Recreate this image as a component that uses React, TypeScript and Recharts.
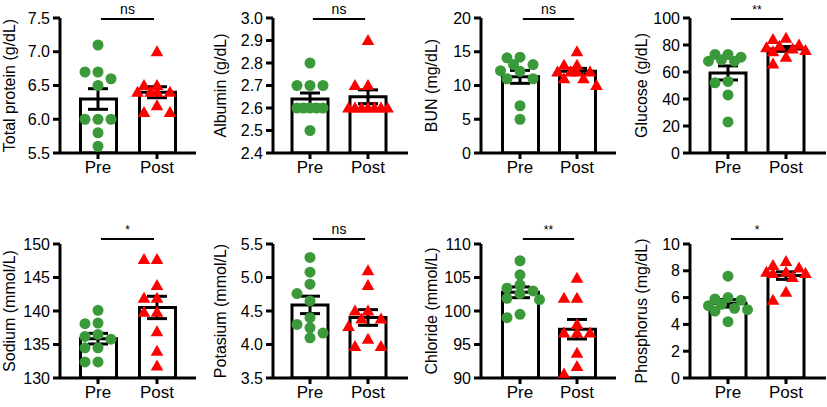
import React from "react";
import {
  ComposedChart,
  Bar,
  Scatter,
  XAxis,
  YAxis,
  ErrorBar,
  ReferenceLine,
} from "recharts";

const groups = ["Pre", "Post"];

// values, one point per animal
const proteinPre = [7.1, 6.7, 6.7, 6.6, 6.5, 6.0, 6.0, 6.0, 5.8, 5.6];
const proteinPost = [7.0, 6.5, 6.5, 6.4, 6.4, 6.4, 6.4, 6.2, 6.1, 6.1];
const albuminPre = [2.8, 2.7, 2.7, 2.7, 2.6, 2.6, 2.6, 2.6, 2.6, 2.5];
const albuminPost = [2.9, 2.7, 2.7, 2.6, 2.6, 2.6, 2.6, 2.6, 2.6, 2.6];
const bunPre = [14.2, 14.1, 13.1, 13.1, 12.2, 12.1, 11, 11, 7, 5];
const bunPost = [15, 13, 13, 12, 12, 12, 12, 11, 11, 10];
const glucosePre = [73, 73, 71, 69, 68, 68, 53, 52, 43, 23];
const glucosePost = [85, 84, 80, 79, 78, 77, 76, 75, 71, 66];
const sodiumPre = [140.1, 138.2, 138.1, 136.5, 136.2, 135.8, 134.5, 134.5, 132.4, 132.4];
const sodiumPost = [147.7, 147.7, 143.8, 141.9, 141.9, 139.8, 139.8, 136.9, 134, 131.8];
const potassiumPre = [5.3, 5.08, 4.9, 4.76, 4.65, 4.4, 4.3, 4.25, 4.17, 4.1];
const potassiumPost = [5.1, 4.88, 4.5, 4.5, 4.38, 4.38, 4.27, 4.08, 3.97, 3.97];
const chloridePre = [107.5, 105.4, 103.9, 103.4, 103, 102.6, 101.9, 101.7, 99.5, 99];
const chloridePost = [104.9, 101.9, 101.9, 98, 96.7, 96.7, 96.7, 93.7, 91.7, 90.6];
const phosphorusPre = [7.6, 6.0, 5.9, 5.8, 5.5, 5.4, 5.2, 5.1, 5.0, 4.2];
const phosphorusPost = [8.7, 8.4, 8.2, 7.9, 7.9, 7.8, 7.8, 7.5, 6.4, 5.8];

const proteinTicks = [5.5, 6.0, 6.5, 7.0, 7.5];
const albuminTicks = [2.4, 2.5, 2.6, 2.7, 2.8, 2.9, 3.0];
const bunTicks = [0, 5, 10, 15, 20];
const glucoseTicks = [0, 20, 40, 60, 80, 100];
const sodiumTicks = [130, 135, 140, 145, 150];
const potassiumTicks = [3.5, 4.0, 4.5, 5.0, 5.5];
const chlorideTicks = [90, 95, 100, 105, 110];
const phosphorusTicks = [0, 2, 4, 6, 8, 10];

const panels = [
  { label: "Total protein (g/dL)", pre: proteinPre, post: proteinPost, ticks: proteinTicks, dec: 1, sig: "ns", col: 0, row: 0 },
  { label: "Albumin (g/dL)", pre: albuminPre, post: albuminPost, ticks: albuminTicks, dec: 1, sig: "ns", col: 1, row: 0 },
  { label: "BUN (mg/dL)", pre: bunPre, post: bunPost, ticks: bunTicks, dec: 0, sig: "ns", col: 2, row: 0 },
  { label: "Glucose (g/dL)", pre: glucosePre, post: glucosePost, ticks: glucoseTicks, dec: 0, sig: "**", col: 3, row: 0 },
  { label: "Sodium (mmol/L)", pre: sodiumPre, post: sodiumPost, ticks: sodiumTicks, dec: 0, sig: "*", col: 0, row: 1 },
  { label: "Potasium (mmol/L)", pre: potassiumPre, post: potassiumPost, ticks: potassiumTicks, dec: 1, sig: "ns", col: 1, row: 1 },
  { label: "Chloride (mmol/L)", pre: chloridePre, post: chloridePost, ticks: chlorideTicks, dec: 0, sig: "**", col: 2, row: 1 },
  { label: "Phosphorus (mg/dL)", pre: phosphorusPre, post: phosphorusPost, ticks: phosphorusTicks, dec: 0, sig: "*", col: 3, row: 1 },
];

// page layout (px)
const COL_LEFT = [0, 207, 414, 621];
const AXIS_X = [60, 273, 481, 690];
const AXIS_END = [196, 408, 616, 826];
const PRE_X = [98, 310, 520, 728];
const POST_X = [157, 368, 577, 786];
const LABEL_X = [9, 220, 431, 641];
const ROW_TOP = [0, 205];
const ROW_H = [200, 202];
const PLOT_TOP = [18, 244];
const PLOT_BOTTOM = [153, 378];
const BRACKET_Y = [19, 239];

const FONT = "Arial, 'Liberation Sans', Helvetica, sans-serif";
const GREEN = "#3a9a3a";
const RED = "#ff0000";

const mean = (a: number[]) => a.reduce((s, v) => s + v, 0) / a.length;
const sem = (a: number[]) => {
  const m = mean(a);
  return Math.sqrt(a.reduce((s, v) => s + (v - m) ** 2, 0) / (a.length - 1)) / Math.sqrt(a.length);
};

// simple beeswarm: horizontal pixel offsets so dots don't sit on each other
function swarm(values: number[], pxPerY: number) {
  const step = 13;
  const minDist = 10;
  const cands = [0, -1, 1, -0.5, 0.5, -1.5, 1.5].map((c) => c * step);
  const placed: { dx: number; py: number }[] = [];
  return values.map((v) => {
    const py = v * pxPerY;
    let best = 0;
    let bestD = -1;
    for (const dx of cands) {
      const d = placed.length
        ? Math.min(...placed.map((p) => Math.hypot(p.dx - dx, p.py - py)))
        : Infinity;
      if (d >= minDist) {
        best = dx;
        bestD = d;
        break;
      }
      if (d > bestD) {
        bestD = d;
        best = dx;
      }
    }
    placed.push({ dx: best, py });
    return best;
  });
}

const Dot = (p: any) => <circle cx={p.cx} cy={p.cy} r={5.5} fill={GREEN} />;
const Tri = (p: any) => (
  <polygon
    points={`${p.cx},${p.cy - 6.5} ${p.cx - 6.3},${p.cy + 4.5} ${p.cx + 6.3},${p.cy + 4.5}`}
    fill={RED}
  />
);
const Nothing = () => <g />;

function Panel({ spec }: { spec: (typeof panels)[number] }) {
  const { col, row, pre, post, ticks } = spec;
  const left = COL_LEFT[col];
  const top = ROW_TOP[row];
  const height = ROW_H[row];
  const width = AXIS_END[col] - left + 1;
  const axisH = 28;
  const plotTop = PLOT_TOP[row];
  const plotBottom = PLOT_BOTTOM[row];
  const margin = {
    top: plotTop - top,
    right: 1,
    left: 0,
    bottom: height - (plotBottom - top) - axisH,
  };
  const plotW = AXIS_END[col] - AXIS_X[col];
  const gap = POST_X[col] - PRE_X[col];
  const padL = PRE_X[col] - AXIS_X[col] - gap / 2;
  const padR = plotW - padL - 2 * gap;
  const lo = ticks[0];
  const hi = ticks[ticks.length - 1];
  const pxPerY = (plotBottom - plotTop) / (hi - lo);

  const preDx = swarm(pre, pxPerY);
  const postDx = swarm(post, pxPerY);
  const prePts = pre.map((v, i) => ({ x: 0.5 + preDx[i] / gap, y: v }));
  const postPts = post.map((v, i) => ({ x: 1.5 + postDx[i] / gap, y: v }));
  const bars = groups.map((g, i) => ({ name: g, mean: mean(i ? post : pre) }));
  const errs = [
    { x: 0.5, y: mean(pre), err: sem(pre) },
    { x: 1.5, y: mean(post), err: sem(post) },
  ];
  const bracketVal = hi + (plotTop - BRACKET_Y[row]) / pxPerY;
  const lx = LABEL_X[col] - left;
  const ly = plotTop - top + (plotBottom - plotTop) / 2;

  const axisStyle = { stroke: "#000", strokeWidth: 3 };

  return (
    <div style={{ position: "absolute", left, top }}>
      <ComposedChart width={width} height={height} data={bars} margin={margin}>
        <XAxis
          xAxisId="cat"
          dataKey="name"
          type="category"
          height={axisH}
          padding={{ left: padL, right: padR }}
          interval={0}
          tick={{ fontSize: 17, fill: "#000" }}
          tickSize={6}
          tickMargin={2}
          axisLine={axisStyle}
          tickLine={axisStyle}
        />
        <XAxis
          xAxisId="num"
          dataKey="x"
          type="number"
          domain={[0, 2]}
          allowDataOverflow
          hide
          padding={{ left: padL, right: padR }}
        />
        <YAxis
          type="number"
          domain={[lo, hi]}
          ticks={ticks}
          interval={0}
          allowDataOverflow
          width={AXIS_X[col] - left}
          tick={{ fontSize: 16, fill: "#000" }}
          tickSize={7}
          tickMargin={3}
          axisLine={axisStyle}
          tickLine={axisStyle}
          tickFormatter={(v: number) => v.toFixed(spec.dec)}
        />
        <Bar
          xAxisId="cat"
          dataKey="mean"
          barSize={36}
          fill="#fff"
          stroke="#000"
          strokeWidth={3}
          isAnimationActive={false}
        />
        <Scatter xAxisId="num" data={prePts} dataKey="y" shape={Dot} isAnimationActive={false} />
        <Scatter xAxisId="num" data={postPts} dataKey="y" shape={Tri} isAnimationActive={false} />
        <Scatter xAxisId="num" data={errs} dataKey="y" shape={Nothing} isAnimationActive={false}>
          <ErrorBar dataKey="err" direction="y" width={10} stroke="#000" strokeWidth={3} />
        </Scatter>
        <ReferenceLine
          xAxisId="num"
          segment={[
            { x: 0.55, y: bracketVal },
            { x: 1.45, y: bracketVal },
          ]}
          stroke="#000"
          strokeWidth={2}
          ifOverflow="visible"
          label={{
            value: spec.sig,
            position: "top",
            offset: 5,
            fontSize: spec.sig === "ns" ? 14 : 12,
            fill: "#000",
          }}
        />
      </ComposedChart>
      <svg
        width={width}
        height={height}
        style={{ position: "absolute", left: 0, top: 0, pointerEvents: "none" }}
      >
        <text
          x={lx}
          y={ly}
          transform={`rotate(-90 ${lx} ${ly})`}
          textAnchor="middle"
          dominantBaseline="central"
          fontSize={16}
          fill="#000"
        >
          {spec.label}
        </text>
      </svg>
    </div>
  );
}

export default function App() {
  return (
    <div
      style={{
        position: "absolute",
        left: 0,
        top: 0,
        width: 827,
        height: 407,
        background: "#fff",
        fontFamily: FONT,
      }}
    >
      {panels.map((p) => (
        <Panel key={p.label} spec={p} />
      ))}
    </div>
  );
}
